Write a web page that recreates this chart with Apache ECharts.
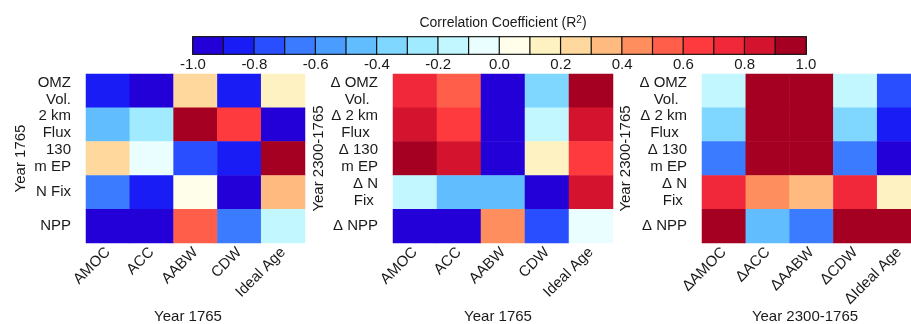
<!DOCTYPE html>
<html>
<head>
<meta charset="utf-8">
<script src="https://cdn.jsdelivr.net/npm/echarts@6/dist/echarts.min.js"></script>
<style>
html,body{margin:0;padding:0;background:#fff;}
#chart{width:911px;height:324px;}
</style>
</head>
<body>
<div id="chart"></div>
<script>
// ---------- data ----------
const rowLabels1765 = ['OMZ\nVol.', '2 km\nFlux', '130\nm EP', 'N Fix', 'NPP'];
const rowLabelsDelta = ['Δ OMZ\nVol.  ', 'Δ 2 km\nFlux  ', 'Δ 130\nm EP', 'Δ N\nFix ', 'Δ NPP'];
const colLabels1765 = ['AMOC', 'ACC', 'AABW', 'CDW', 'Ideal Age'];
const colLabelsDelta = ['ΔAMOC', 'ΔACC', 'ΔAABW', 'ΔCDW', 'ΔIdeal Age'];

// rows: OMZ, 2 km Flux, 130 m EP, N Fix, NPP ; cols: AMOC, ACC, AABW, CDW, Ideal Age
const corr1765vs1765 = [
  [-0.85, -0.95,  0.25, -0.85,  0.15],
  [-0.45, -0.25,  0.95,  0.65, -0.95],
  [ 0.25, -0.05, -0.75, -0.85,  0.95],
  [-0.65, -0.85,  0.05, -0.95,  0.35],
  [-0.95, -0.95,  0.55, -0.65, -0.15]
];
const corrDeltaVs1765 = [
  [ 0.75,  0.55, -0.95, -0.35,  0.95],
  [ 0.85,  0.65, -0.95, -0.15,  0.85],
  [ 0.95,  0.85, -0.95,  0.15,  0.65],
  [-0.15, -0.45, -0.45, -0.95,  0.85],
  [-0.95, -0.95,  0.45, -0.75, -0.05]
];
const corrDeltaVsDelta = [
  [-0.15,  0.95,  0.95, -0.15, -0.75],
  [-0.35,  0.95,  0.95, -0.35, -0.85],
  [-0.65,  0.95,  0.95, -0.65, -0.95],
  [ 0.75,  0.45,  0.35,  0.75,  0.15],
  [ 0.95, -0.45, -0.65,  0.95,  0.95]
];

// colour bar
const binEdges = [-1.0, -0.9, -0.8, -0.7, -0.6, -0.5, -0.4, -0.3, -0.2, -0.1, 0.0,
                   0.1, 0.2, 0.3, 0.4, 0.5, 0.6, 0.7, 0.8, 0.9, 1.0];
const binMids = [-0.95, -0.85, -0.75, -0.65, -0.55, -0.45, -0.35, -0.25, -0.15, -0.05,
                  0.05, 0.15, 0.25, 0.35, 0.45, 0.55, 0.65, 0.75, 0.85, 0.95];
const palette = ['#2400d8', '#1a1cf5', '#284eff', '#3b7bff', '#4a9cff', '#62bdff', '#7fd6ff',
                 '#a0ebff', '#c2f7ff', '#eafeff', '#fffeea', '#fff2c2', '#ffd89e', '#ffba80',
                 '#ff8e5e', '#ff5e4a', '#ff3a3e', '#f0283a', '#d4142e', '#a50021'];

// ---------- build ----------
function toCells(mat) {
  const out = [];
  mat.forEach((row, r) => row.forEach((v, c) => out.push([c, r, v])));
  return out;
}
const pieces = palette.map((col, i) => ({ gte: binEdges[i], lt: binEdges[i + 1], color: col }));
pieces[pieces.length - 1] = { gte: binEdges[19], lte: binEdges[20], color: palette[19] };

const FONT = 'Liberation Sans, Arial, sans-serif';
const TXT = '#1a1a1a';

const panels = [
  { left: 86,  width: 219, rows: rowLabels1765,  cols: colLabels1765,  data: corr1765vs1765,
    yName: 'Year 1765', yGap: 58, xName: 'Year 1765', xPad: 15 },
  { left: 393, width: 220, rows: rowLabelsDelta, cols: colLabels1765,  data: corrDeltaVs1765,
    yName: 'Year 2300-1765', yGap: 67, xName: 'Year 1765', xPad: 10 },
  { left: 702, width: 219, rows: rowLabelsDelta, cols: colLabelsDelta, data: corrDeltaVsDelta,
    yName: 'Year 2300-1765', yGap: 69, xName: 'Year 2300-1765', xPad: 13 }
];

const grid = [], xAxis = [], yAxis = [], series = [];
panels.forEach((p, i) => {
  grid.push({ left: p.left, top: 74, width: p.width, height: 169, outerBoundsMode: 'none', containLabel: false });
  xAxis.push({
    type: 'category', gridIndex: i, data: p.cols, position: 'bottom',
    axisLine: { show: false }, axisTick: { show: false }, splitLine: { show: false },
    axisLabel: { rotate: 45, margin: 7, interval: 0, fontSize: 15, color: TXT, fontFamily: FONT },
    name: p.xName, nameLocation: 'middle', nameGap: 66, nameMoveOverlap: false,
    nameTextStyle: { fontSize: 15, color: TXT, fontFamily: FONT, padding: [0, p.xPad, 0, 0] }
  });
  yAxis.push({
    type: 'category', gridIndex: i, data: p.rows, inverse: true,
    axisLine: { show: false }, axisTick: { show: false }, splitLine: { show: false },
    axisLabel: { interval: 0, fontSize: 15, lineHeight: 17, margin: 15, color: TXT, fontFamily: FONT,
                 padding: [4, 0, 0, 0] },
    name: p.yName, nameLocation: 'middle', nameGap: p.yGap, nameRotate: 90, nameMoveOverlap: false,
    nameTextStyle: { fontSize: 15, color: TXT, fontFamily: FONT }
  });
  series.push({
    type: 'heatmap', xAxisIndex: i, yAxisIndex: i, data: toCells(p.data),
    emphasis: { disabled: true }, itemStyle: { borderWidth: 0 }
  });
});

// colour bar grid
grid.push({ left: 193, top: 37, width: 613, height: 17, show: true, outerBoundsMode: 'none',
            borderColor: '#111', borderWidth: 1.5, backgroundColor: 'transparent' });
xAxis.push({ type: 'category', gridIndex: 3, data: binMids.map(String), show: false });
xAxis.push({
  type: 'value', gridIndex: 3, min: -1, max: 1, interval: 0.2, position: 'bottom',
  axisLine: { show: false }, axisTick: { show: false }, splitLine: { show: false },
  axisLabel: { margin: 3, fontSize: 15, color: TXT, fontFamily: FONT, showMinLabel: true, showMaxLabel: true,
    formatter: v => (Math.abs(v) < 1e-9 ? '0.0' : v.toFixed(1)) }
});
yAxis.push({ type: 'category', gridIndex: 3, data: ['cb'], show: false });
series.push({
  type: 'heatmap', xAxisIndex: 3, yAxisIndex: 3,
  data: binMids.map((v, i) => [i, 0, v]),
  emphasis: { disabled: true },
  itemStyle: { borderColor: '#111', borderWidth: 1.2 }
});

const chart = echarts.init(document.getElementById('chart'), null, { renderer: 'canvas' });
chart.setOption({
  animation: false,
  backgroundColor: '#fff',
  title: {
    text: '{a|Correlation Coefficient (R}{s|2}{a|)}',
    left: 498, top: 10, textAlign: 'center',
    textStyle: {
      fontWeight: 'normal',
      rich: {
        a: { fontSize: 14, color: TXT, fontFamily: FONT, fontWeight: 'normal' },
        s: { fontSize: 10, color: TXT, fontFamily: FONT, fontWeight: 'normal', verticalAlign: 'top', padding: [0, 0, 6, 0] }
      }
    }
  },
  visualMap: { type: 'piecewise', show: false, seriesIndex: [0, 1, 2, 3], pieces: pieces },
  grid, xAxis, yAxis, series
});
</script>
</body>
</html>
